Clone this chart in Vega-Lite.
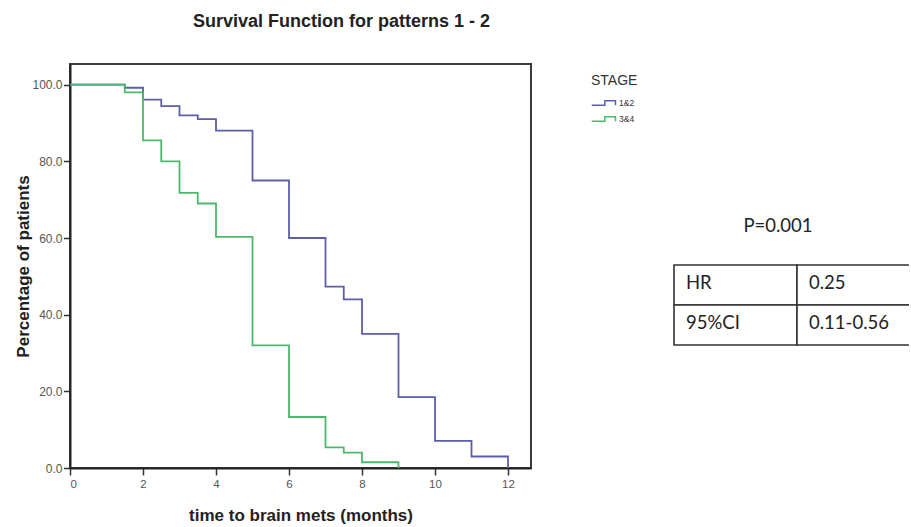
{
  "$schema": "https://vega.github.io/schema/vega-lite/v6.json",
  "background": "white",
  "padding": {"left": 13, "top": 12, "right": 0, "bottom": 2},
  "config": {"font": "Liberation Sans"},
  "bounds": "flush",
  "spacing": 142,
  "resolve": {"scale": {"color": "independent"}, "legend": {"color": "independent"}},
  "hconcat": [
    {
      "width": 461,
      "height": 404,
      "title": {"text": "Survival Function for patterns 1 - 2", "fontSize": 18, "fontWeight": "bold", "color": "#222", "anchor": "middle", "frame": "group", "dx": 41, "offset": 33},
      "view": {"stroke": "#3a3a3a", "strokeWidth": 2},
      "data": {"values": [
        {"stage": "1&2", "time": 0, "pct": 100},
        {"stage": "1&2", "time": 1.5, "pct": 99.2},
        {"stage": "1&2", "time": 2, "pct": 96.1},
        {"stage": "1&2", "time": 2.5, "pct": 94.4},
        {"stage": "1&2", "time": 3, "pct": 92.0},
        {"stage": "1&2", "time": 3.5, "pct": 91.0},
        {"stage": "1&2", "time": 4, "pct": 88.0},
        {"stage": "1&2", "time": 5, "pct": 75.0},
        {"stage": "1&2", "time": 6, "pct": 60.0},
        {"stage": "1&2", "time": 7, "pct": 47.3},
        {"stage": "1&2", "time": 7.5, "pct": 44.0},
        {"stage": "1&2", "time": 8, "pct": 35.0},
        {"stage": "1&2", "time": 9, "pct": 18.5},
        {"stage": "1&2", "time": 10, "pct": 7.1},
        {"stage": "1&2", "time": 11, "pct": 3.0},
        {"stage": "1&2", "time": 12, "pct": 0},
        {"stage": "3&4", "time": 0, "pct": 100},
        {"stage": "3&4", "time": 1.5, "pct": 98.0},
        {"stage": "3&4", "time": 2, "pct": 85.5},
        {"stage": "3&4", "time": 2.5, "pct": 80.0},
        {"stage": "3&4", "time": 3, "pct": 71.8},
        {"stage": "3&4", "time": 3.5, "pct": 69.0},
        {"stage": "3&4", "time": 4, "pct": 60.3},
        {"stage": "3&4", "time": 5, "pct": 32.0},
        {"stage": "3&4", "time": 6, "pct": 13.3},
        {"stage": "3&4", "time": 7, "pct": 5.4},
        {"stage": "3&4", "time": 7.5, "pct": 4.0},
        {"stage": "3&4", "time": 8, "pct": 1.5},
        {"stage": "3&4", "time": 9, "pct": 0}
      ]},
      "mark": {"type": "line", "interpolate": "step-after", "strokeWidth": 1.8, "clip": true},
      "encoding": {
        "x": {
          "field": "time", "type": "quantitative",
          "scale": {"domain": [0, 12.63], "nice": false, "zero": false},
          "axis": {
            "title": "time to brain mets (months)", "values": [0, 2, 4, 6, 8, 10, 12], "format": "d",
            "grid": false, "domainColor": "#222", "domainWidth": 2,
            "tickColor": "#333", "tickWidth": 1.5, "tickSize": 7,
            "labelFontSize": 11.5, "labelColor": "#555", "labelPadding": 3,
            "titleFontSize": 17, "titleFontWeight": "bold", "titleColor": "#222", "titlePadding": 18
          }
        },
        "y": {
          "field": "pct", "type": "quantitative",
          "scale": {"domain": [0, 105.4], "nice": false},
          "axis": {
            "title": "Percentage of patients", "values": [0, 20, 40, 60, 80, 100], "format": ".1f",
            "grid": false, "domainColor": "#222", "domainWidth": 2,
            "tickColor": "#333", "tickWidth": 1.5, "tickSize": 6.5,
            "labelFontSize": 12, "labelColor": "#555", "labelPadding": 1.5,
            "titleFontSize": 17, "titleFontWeight": "bold", "titleColor": "#222", "titlePadding": -1
          }
        },
        "color": {
          "field": "stage", "type": "nominal",
          "scale": {"domain": ["1&2", "3&4"], "range": ["#5b5fa9", "#4db86b"]},
          "legend": {
            "title": "STAGE", "orient": "right", "offset": 50, "padding": 10,
            "titleFontSize": 14, "titleFontWeight": "normal", "titleColor": "#333", "titlePadding": 8,
            "labelFontSize": 8.5, "labelColor": "#333", "labelOffset": 14,
            "symbolType": "M -1 0.35 L 1.1 0.35 L 1.1 -0.35 L 2.8 -0.35 L 2.8 0.35",
            "symbolSize": 156, "symbolStrokeWidth": 1.5, "rowPadding": 3
          }
        }
      }
    },
    {
      "width": 236,
      "height": 404,
      "view": {"stroke": null},
      "layer": [
        {
          "data": {"values": [
            {"row": "HR", "col": "name", "label": "HR"},
            {"row": "HR", "col": "value", "label": "0.25"},
            {"row": "95%CI", "col": "name", "label": "95%CI"},
            {"row": "95%CI", "col": "value", "label": "0.11-0.56"}
          ]},
          "layer": [
            {
              "mark": {"type": "rect", "fill": "white", "stroke": "#333", "strokeWidth": 1.6, "clip": true},
              "encoding": {
                "x": {"field": "col", "type": "nominal", "scale": {"domain": ["name", "value"], "range": [1, 247], "paddingInner": 0, "paddingOuter": 0}, "axis": null},
                "y": {"field": "row", "type": "nominal", "scale": {"domain": ["HR", "95%CI"], "range": [201, 281], "paddingInner": 0, "paddingOuter": 0}, "axis": null}
              }
            },
            {
              "mark": {"type": "text", "align": "left", "baseline": "middle", "dx": 12, "dy": -2, "font": "Lato", "fontSize": 18.5, "color": "#222"},
              "encoding": {
                "x": {"field": "col", "type": "nominal", "bandPosition": 0},
                "y": {"field": "row", "type": "nominal"},
                "text": {"field": "label"}
              }
            }
          ]
        },
        {
          "data": {"values": [{"label": "P=0.001"}]},
          "mark": {"type": "text", "align": "center", "baseline": "middle", "dx": -19, "dy": -39, "font": "Lato", "fontSize": 18.5, "color": "#222"},
          "encoding": {
            "x": {"datum": "value", "type": "nominal", "bandPosition": 0},
            "y": {"datum": "HR", "type": "nominal", "bandPosition": 0},
            "text": {"field": "label"}
          }
        }
      ]
    }
  ]
}
